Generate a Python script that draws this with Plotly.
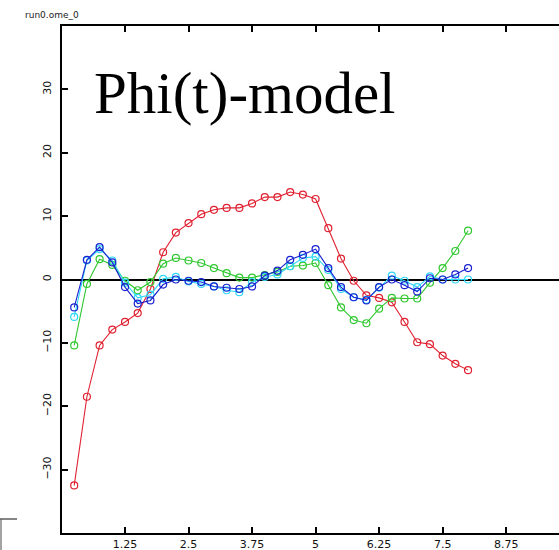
import plotly.graph_objects as go

t = [0.25 * i for i in range(1, 33)]

red = [-32.5, -18.5, -10.4, -7.9, -6.7, -5.3, -1.5, 4.3, 7.4, 8.9, 10.3, 11.0, 11.3, 11.3, 12.0, 13.0,
       13.0, 13.8, 13.4, 12.7, 8.1, 3.3, -0.2, -2.5, -2.9, -3.6, -6.7, -9.9, -10.2, -12.0, -13.3, -14.3]
green = [-10.4, -0.7, 3.2, 2.3, -0.2, -1.7, -0.4, 2.5, 3.4, 3.0, 2.6, 1.8, 1.0, 0.3, 0.3, 0.7,
         1.2, 2.1, 2.2, 2.6, -0.9, -4.4, -6.4, -6.9, -4.6, -2.9, -3.0, -3.0, -0.5, 1.8, 4.5, 7.7]
blue = [-4.4, 3.1, 5.1, 2.7, -1.2, -3.8, -3.3, -0.8, 0.0, -0.2, -0.4, -1.1, -1.3, -1.5, -1.1, 0.6,
        1.4, 3.1, 3.9, 4.8, 1.8, -1.2, -2.8, -3.3, -1.2, 0.0, -0.9, -1.9, 0.2, 0.0, 0.8, 1.8]
cyan = [-5.9, 3.0, 4.8, 3.0, -0.5, -2.9, -2.4, 0.1, 0.4, -0.3, -0.7, -1.1, -1.7, -2.0, -0.4, 0.4,
        0.8, 2.1, 3.4, 3.6, 1.5, -1.5, -2.8, -3.2, -1.3, 0.6, -0.2, -1.2, 0.5, 0.0, 0.0, 0.0]

x_ticks = [1.25, 2.5, 3.75, 5, 6.25, 7.5, 8.75]
x_tick_labels = ["1.25", "2.5", "3.75", "5", "6.25", "7.5", "8.75"]
y_ticks = [-30, -20, -10, 0, 10, 20, 30]
y_tick_labels = ["\u221230", "\u221220", "\u221210", "0", "10", "20", "30"]

series = [
    ("red", red, "#e02030"),
    ("green", green, "#30c830"),
    ("cyan", cyan, "#30d8f8"),
    ("blue", blue, "#1a20d0"),
]

fig = go.Figure()
for name, vals, col in series:
    fig.add_trace(go.Scatter(
        x=t, y=vals, mode="lines+markers", name=name,
        line=dict(color=col, width=1.1),
        marker=dict(symbol="circle-open", size=7, color=col, line=dict(width=1.2, color=col)),
        showlegend=False,
    ))

tick_font = dict(family="DejaVu Sans", size=11, color="#111")

fig.update_layout(
    width=559, height=550,
    margin=dict(l=62, r=0, t=26, b=17),
    paper_bgcolor="white", plot_bgcolor="white",
    font=dict(family="DejaVu Sans", size=10, color="#222"),
    xaxis=dict(
        range=[0.01, 9.79], tickmode="array", tickvals=x_ticks, ticktext=x_tick_labels,
        automargin=False,
        showgrid=False, zeroline=False, showline=True, linecolor="black", linewidth=1.5,
        mirror="ticks", ticks="inside", ticklen=6, tickwidth=1.5, tickcolor="black",
        ticklabelstandoff=0,
        tickfont=tick_font,
    ),
    yaxis=dict(
        range=[-40, 40], tickmode="array", tickvals=y_ticks, ticktext=y_tick_labels,
        tickangle=-90, automargin=False,
        showgrid=False, zeroline=True, zerolinecolor="black", zerolinewidth=1.5,
        showline=True, linecolor="black", linewidth=1.5,
        ticks="inside", ticklen=6, tickwidth=1.5, tickcolor="black",
        ticklabelstandoff=5,
        tickfont=tick_font,
    ),
    annotations=[
        dict(text="Phi(t)-model", xref="paper", yref="paper",
             x=(92 - 62) / 497, y=(533 - 128) / 507, xanchor="left", yanchor="bottom",
             showarrow=False, font=dict(family="Liberation Serif", size=59, color="black")),
        dict(text="run0.ome_0", xref="paper", yref="paper",
             x=(23 - 62) / 497, y=(533 - 22) / 507, xanchor="left", yanchor="bottom",
             showarrow=False, font=dict(family="DejaVu Sans", size=9, color="#222")),
    ],
    shapes=[
        dict(type="line", xref="paper", yref="paper",
             x0=(0 - 62) / 497, x1=(17 - 62) / 497, y0=(533 - 519) / 507, y1=(533 - 519) / 507,
             line=dict(color="#333", width=1.2)),
        dict(type="line", xref="paper", yref="paper",
             x0=(1 - 62) / 497, x1=(1 - 62) / 497, y0=(533 - 519) / 507, y1=(533 - 552) / 507,
             line=dict(color="#666", width=1.2)),
    ],
)

fig.write_html("out.html", config={"displayModeBar": False},
               post_script="document.body.style.margin='0';")
